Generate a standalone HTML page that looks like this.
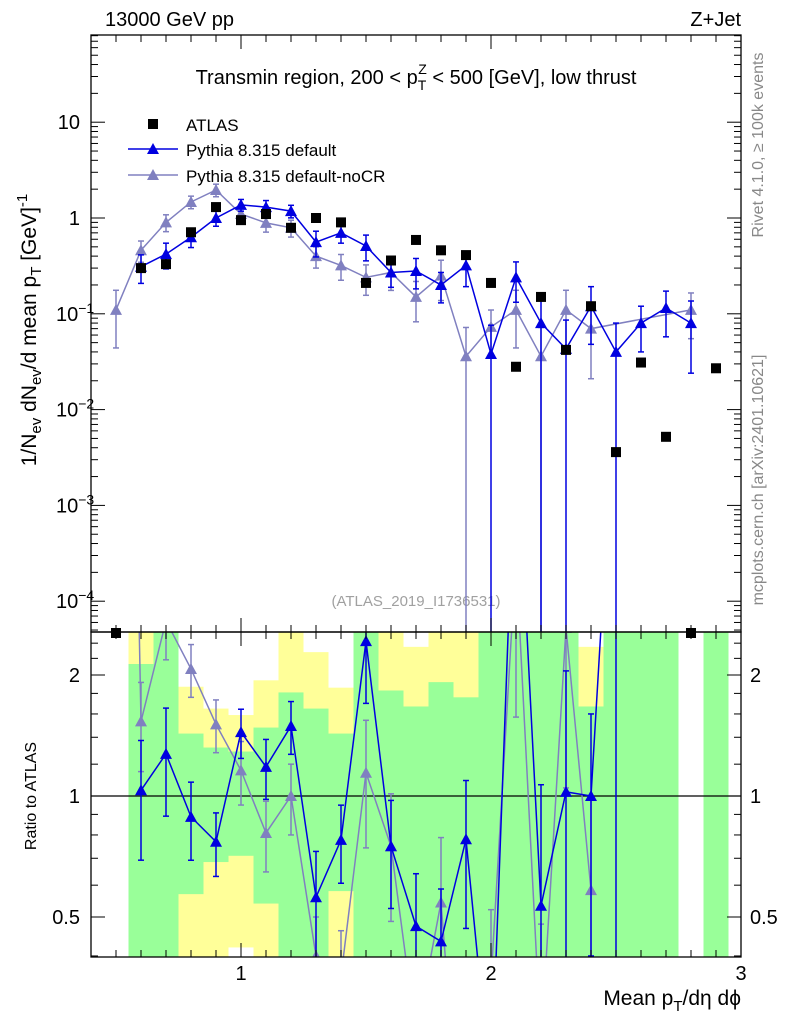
<!DOCTYPE html>
<html><head><meta charset="utf-8"><style>
html,body{margin:0;background:#fff;overflow:hidden;width:786px;height:1024px}
svg{font-family:"Liberation Sans",sans-serif;display:block;overflow:hidden}
</style></head><body>
<svg id="c" width="786" height="1024" viewBox="0 0 786 1024">
<text x="105" y="26" font-size="20">13000 GeV pp</text>
<text x="741" y="26" font-size="20" text-anchor="end">Z+Jet</text>
<text x="416" y="84" font-size="20" text-anchor="middle">Transmin region, 200 &lt; p<tspan dy="6" font-size="14">T</tspan><tspan dy="-16" dx="-8" font-size="14">Z</tspan><tspan dy="10"> &lt; 500 [GeV], low thrust</tspan></text>
<g>
<rect x="148" y="119" width="10" height="10" fill="#000"/>
<text x="186" y="131" font-size="17">ATLAS</text>
<line x1="128" x2="178" y1="149" y2="149" stroke="#0000e0" stroke-width="1.5"/>
<polygon points="153,143 147,154 159,154" fill="#0000e0"/>
<text x="186" y="156" font-size="17">Pythia 8.315 default</text>
<line x1="128" x2="178" y1="175" y2="175" stroke="#8080c0" stroke-width="1.5"/>
<polygon points="153,169 147,180 159,180" fill="#8080c0"/>
<text x="186" y="182" font-size="17">Pythia 8.315 default-noCR</text>
</g>
<text x="416" y="606" font-size="15" fill="#a0a0a0" text-anchor="middle">(ATLAS_2019_I1736531)</text>
<text transform="translate(763,145) rotate(-90)" font-size="16" fill="#888" text-anchor="middle">Rivet 4.1.0, ≥ 100k events</text>
<text transform="translate(763,480) rotate(-90)" font-size="16" fill="#888" text-anchor="middle">mcplots.cern.ch [arXiv:2401.10621]</text>
<text transform="translate(36,330) rotate(-90)" font-size="21" text-anchor="middle">1/N<tspan dy="5" font-size="15">ev</tspan><tspan dy="-5"> dN</tspan><tspan dy="5" font-size="15">ev</tspan><tspan dy="-5">/d mean p</tspan><tspan dy="5" font-size="15">T</tspan><tspan dy="-5"> [GeV]</tspan><tspan dy="-9" font-size="15">-1</tspan></text>
<text transform="translate(36,796) rotate(-90)" font-size="16" text-anchor="middle">Ratio to ATLAS</text>
<text x="741" y="1005" font-size="21" text-anchor="end">Mean p<tspan dy="6" font-size="15">T</tspan><tspan dy="-6">/dη dϕ</tspan></text>
</svg>
<script>
const xcenters=[0.5,0.6,0.7,0.8,0.9,1.0,1.1,1.2,1.3,1.4,1.5,1.6,1.7,1.8,1.9,2.0,2.1,2.2,2.3,2.4,2.5,2.6,2.7,2.8,2.9];
const atlasVals=[4.5e-5,0.30,0.33,0.71,1.3,0.95,1.1,0.79,1.0,0.9,0.21,0.36,0.59,0.46,0.41,0.21,0.028,0.15,0.042,0.12,0.0036,0.031,0.0052,4.5e-5,0.027];
const defX=[0.6,0.7,0.8,0.9,1.0,1.1,1.2,1.3,1.4,1.5,1.6,1.7,1.8,1.9,2.0,2.1,2.2,2.3,2.4,2.5,2.6,2.7,2.8];
const defVals=[0.31,0.42,0.63,1.0,1.37,1.3,1.18,0.56,0.70,0.51,0.27,0.28,0.2,0.32,0.038,0.24,0.08,0.043,0.12,0.04,0.08,0.115,0.08];
const defErr=[0.33,0.3,0.22,0.18,0.14,0.17,0.15,0.3,0.22,0.3,0.3,0.35,0.35,0.4,1.0,0.45,1.0,1.0,0.6,1.0,0.5,0.5,0.7];
const nocrX=[0.5,0.6,0.7,0.8,0.9,1.0,1.1,1.2,1.3,1.4,1.5,1.6,1.7,1.8,1.9,2.0,2.1,2.2,2.3,2.4,2.8];
const nocrVals=[0.11,0.46,0.9,1.47,1.96,1.1,0.89,0.79,0.40,0.32,0.24,0.27,0.15,0.25,0.036,0.073,0.11,0.036,0.11,0.07,0.11];
const nocrErr=[0.6,0.25,0.2,0.15,0.15,0.18,0.2,0.2,0.25,0.3,0.35,0.35,0.45,0.45,1.0,0.5,0.6,1.0,0.6,0.7,0.5];
const bandX=[0.6,0.7,0.8,0.9,1.0,1.1,1.2,1.3,1.4,1.5,1.6,1.7,1.8,1.9,2.0,2.1,2.2,2.3,2.4,2.5,2.6,2.7,2.9];
const greenLo=[0.3,0.3,0.57,0.685,0.71,0.54,0.3,0.3,0.58,0.3,0.3,0.3,0.3,0.3,0.3,0.3,0.3,0.3,0.3,0.3,0.3,0.3,0.3];
const greenHi=[2.13,3,1.43,1.32,1.29,1.48,1.81,1.65,1.43,3,1.83,1.67,1.92,1.76,3,3,3,3,1.67,3,3,3,3];
const yelLo=[0.3,0.3,0.3,0.3,0.42,0.3,0.3,0.3,0.3,0.3,0.3,0.3,0.3,0.3,0.3,0.3,0.3,0.3,0.3,0.3,0.3,0.3,0.3];
const yelHi=[3,3,1.87,1.65,1.59,1.94,3,2.28,1.86,3,3,2.35,3,3,3,3,3,3,2.35,3,3,3,3];
const RATIO_MAX_X=2.5;

const NS='http://www.w3.org/2000/svg';
const svg=document.getElementById('c');
const L=91,R=741,T=35,MB=632,RB=957;
const X=v=>L+(v-0.4)*250;
const Y=v=>218-Math.log10(v)*95.8;
const RY=v=>796-Math.log2(v)*121;
function mk(tag,a,parent){const e=document.createElementNS(NS,tag);for(const k in a)e.setAttribute(k,a[k]);(parent||svg).appendChild(e);return e;}
function txt(s,a,parent){const e=mk('text',a,parent);e.innerHTML=s;return e;}
const cm=mk('clipPath',{id:'cm'});mk('rect',{x:L,y:T,width:R-L,height:MB-T},cm);
const cr=mk('clipPath',{id:'cr'});mk('rect',{x:L,y:MB,width:R-L,height:RB-MB},cr);
const gR=mk('g',{'clip-path':'url(#cr)'});


const gM=mk('g',{'clip-path':'url(#cm)'});


const clampR=v=>Math.min(Math.max(v,0.3),3);
const clampY=y=>Math.min(Math.max(y,T-20),RB+20);
bandX.forEach((c,i)=>{
  const x0=X(c-0.05),w=25;
  let r=mk('rect',{x:x0,y:RY(clampR(yelHi[i])),width:w,height:RY(clampR(yelLo[i]))-RY(clampR(yelHi[i])),fill:'#ffff99'},gR);
  
  
  r=mk('rect',{x:x0,y:RY(clampR(greenHi[i])),width:w,height:RY(clampR(greenLo[i]))-RY(clampR(greenHi[i])),fill:'#99ff99'},gR);
  
  
});
mk('line',{x1:L,x2:R,y1:RY(1),y2:RY(1),stroke:'#000','stroke-width':1.3},gR);
function ratioOf(xv,v){const i=xcenters.findIndex(c=>Math.abs(c-xv)<1e-6);return v/atlasVals[i];}
function yl(v){return v<=0?RB+20:clampY(Y(v));}
function rl(v){return v<=0?RB+20:clampY(RY(v));}
function series(xs,vals,errs,col,name){
  let p=mk('polyline',{points:xs.map((x,i)=>X(x)+','+Y(vals[i])).join(' '),fill:'none',stroke:col,'stroke-width':1.5},gM);
  
  
  const rx=xs.filter(x=>x<=RATIO_MAX_X+1e-6);
  const rv=rx.map((x,i)=>ratioOf(x,vals[i]));
  p=mk('polyline',{points:rx.map((x,i)=>X(x)+','+RY(rv[i])).join(' '),fill:'none',stroke:col,'stroke-width':1.5},gR);
  
  
  xs.forEach((x,i)=>{
    const cx=X(x),v=vals[i],e=errs[i]*v;
    const y1=yl(v+e),y2=yl(v-e);
    mk('line',{x1:cx,x2:cx,y1:y1,y2:y2,stroke:col,'stroke-width':1.5},gM);
    mk('line',{x1:cx-3,x2:cx+3,y1:y1,y2:y1,stroke:col,'stroke-width':1.5},gM);
    if(v-e>0)mk('line',{x1:cx-3,x2:cx+3,y1:y2,y2:y2,stroke:col,'stroke-width':1.5},gM);
    const cy=Y(v);
    let m=mk('polygon',{points:`${cx},${cy-6} ${cx-6},${cy+5} ${cx+6},${cy+5}`,fill:col},gM);
    
    
    if(x>RATIO_MAX_X+1e-6)return;
    const d=atlasVals[xcenters.findIndex(c=>Math.abs(c-x)<1e-6)];
    const r=v/d,re=e/d;
    const ry1=rl(r+re),ry2=rl(r-re);
    mk('line',{x1:cx,x2:cx,y1:ry1,y2:ry2,stroke:col,'stroke-width':1.5},gR);
    mk('line',{x1:cx-3,x2:cx+3,y1:ry1,y2:ry1,stroke:col,'stroke-width':1.5},gR);
    if(r-re>0)mk('line',{x1:cx-3,x2:cx+3,y1:ry2,y2:ry2,stroke:col,'stroke-width':1.5},gR);
    const rcy=clampY(RY(r));
    m=mk('polygon',{points:`${cx},${rcy-6} ${cx-6},${rcy+5} ${cx+6},${rcy+5}`,fill:col},gR);
    
    
  });
}
series(nocrX,nocrVals,nocrErr,'#8080c0','pythia-nocr');
series(defX,defVals,defErr,'#0000e0','pythia-default');
xcenters.forEach((x,i)=>{
  const cy=Math.min(Y(atlasVals[i]),MB+1);
  const m=mk('rect',{x:X(x)-5,y:cy-5,width:10,height:10,fill:'#000'});
  
  
});
mk('rect',{x:L,y:T,width:R-L,height:MB-T,fill:'none',stroke:'#000','stroke-width':1.3});
mk('rect',{x:L,y:MB,width:R-L,height:RB-MB,fill:'none',stroke:'#000','stroke-width':1.3});
for(let k=5;k<=29;k++){const v=k/10,x=X(v),maj=(k%10===0),len=maj?14:7;
  mk('line',{x1:x,x2:x,y1:RB,y2:RB-len,stroke:'#000'});
  mk('line',{x1:x,x2:x,y1:MB,y2:MB-len,stroke:'#000'});
  mk('line',{x1:x,x2:x,y1:MB,y2:MB+len,stroke:'#000'});
  mk('line',{x1:x,x2:x,y1:T,y2:T+len,stroke:'#000'});
}
[1,2,3].forEach(v=>{const t=txt(String(v),{x:X(v),y:980,'text-anchor':'middle','font-size':20});
  
  });
for(let d=-5;d<=1;d++){for(let m=1;m<=9;m++){const v=m*Math.pow(10,d);const y=Y(v);if(y<T||y>MB)continue;const len=m===1?14:7;
  mk('line',{x1:L,x2:L+len,y1:y,y2:y,stroke:'#000'});mk('line',{x1:R,x2:R-len,y1:y,y2:y,stroke:'#000'});}}
const ylabels=[[1,'10'],[0,'1'],[-1,'10<tspan dy="-8" font-size="14">−1</tspan>'],[-2,'10<tspan dy="-8" font-size="14">−2</tspan>'],[-3,'10<tspan dy="-8" font-size="14">−3</tspan>'],[-4,'10<tspan dy="-8" font-size="14">−4</tspan>']];
ylabels.forEach(([d,s])=>{const t=txt(s,{x:d<0?56:80,y:Y(Math.pow(10,d))+7,'text-anchor':d<0?'start':'end','font-size':20});
  
  });
[0.4,0.5,0.6,0.7,0.8,0.9,1,1.2,1.4,1.6,1.8,2,2.2,2.4].forEach(v=>{const y=RY(v);const maj=[0.5,1,2].includes(v);const len=maj?14:7;
  mk('line',{x1:L,x2:L+len,y1:y,y2:y,stroke:'#000'});mk('line',{x1:R,x2:R-len,y1:y,y2:y,stroke:'#000'});});
[[2,'2'],[1,'1'],[0.5,'0.5']].forEach(([v,s])=>{
  let t=txt(s,{x:80,y:RY(v)+7,'text-anchor':'end','font-size':20});
  
  
  t=txt(s,{x:750,y:RY(v)+7,'font-size':20});
  
  });
</script>
</body></html>
